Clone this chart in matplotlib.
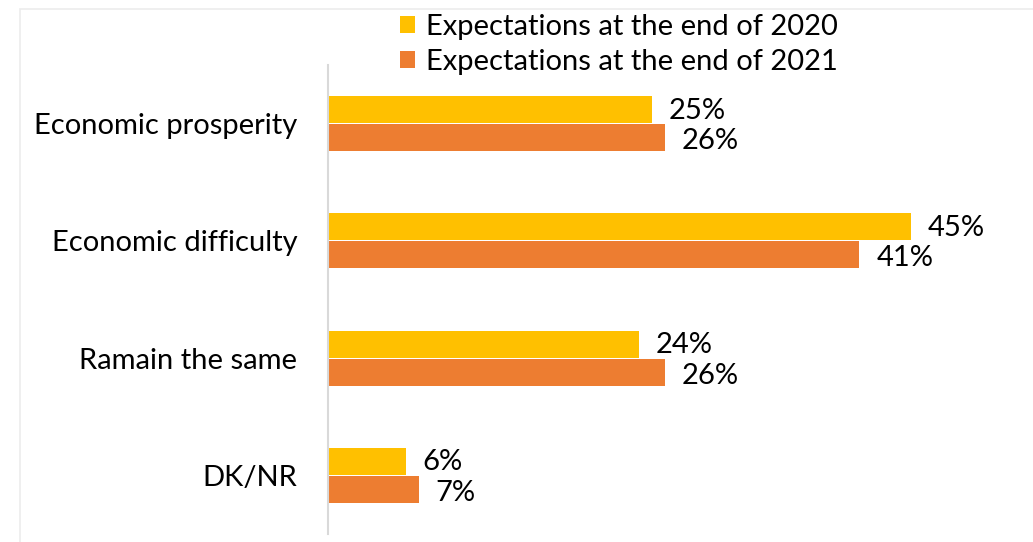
import matplotlib.pyplot as plt
import numpy as np
from matplotlib.patches import Patch, Rectangle

categories = ["Economic prosperity", "Economic difficulty", "Ramain the same", "DK/NR"]
values_2020 = [25, 45, 24, 6]
values_2021 = [26, 41, 26, 7]
series_names = ["Expectations at the end of 2020", "Expectations at the end of 2021"]

YELLOW = "#FFC000"
ORANGE = "#ED7D31"
FS = 21

plt.rcParams["font.family"] = ["Lato", "DejaVu Sans"]

fig = plt.figure(figsize=(10.33, 5.42), dpi=100)
ax = fig.add_axes([328 / 1033, 8 / 542, 705 / 1033, 469 / 542])

# faint chart-area frame
fig.patches.append(
    Rectangle((20 / 1033, -0.01), 1.1, 1 - 9 / 542 + 0.01, transform=fig.transFigure,
              fill=False, edgecolor="#ececec", linewidth=1.2, zorder=0)
)

y = np.arange(len(categories))
h = 0.23
off = 0.12
ax.barh(y - off, values_2020, height=h, color=YELLOW)
ax.barh(y + off, values_2021, height=h, color=ORANGE)

for yi, v in zip(y - off, values_2020):
    ax.text(v + 1.3, yi + 0.01, f"{v}%", va="center", ha="left", fontsize=FS)
for yi, v in zip(y + off, values_2021):
    ax.text(v + 1.3, yi + 0.03, f"{v}%", va="center", ha="left", fontsize=FS)

ax.set_xlim(0, 54.4)
ax.set_ylim(3.5, -0.5)
ax.set_yticks(y)
ax.set_yticklabels(categories, fontsize=FS)
ax.tick_params(axis="y", length=0, pad=22)
ax.set_xticks([])
for s in ["top", "right", "bottom"]:
    ax.spines[s].set_visible(False)
ax.spines["left"].set_color("#d9d9d9")
ax.spines["left"].set_linewidth(1.5)

handles = [Patch(facecolor=YELLOW), Patch(facecolor=ORANGE)]
fig.legend(handles, series_names, loc="upper left", bbox_to_anchor=(400 / 1033, 1 - 14 / 542),
           frameon=False, fontsize=FS, handlelength=0.52, handleheight=0.52,
           handletextpad=0.38, labelspacing=0.32, borderaxespad=0, borderpad=0)

fig.savefig("out.png", dpi=100, facecolor="white")
